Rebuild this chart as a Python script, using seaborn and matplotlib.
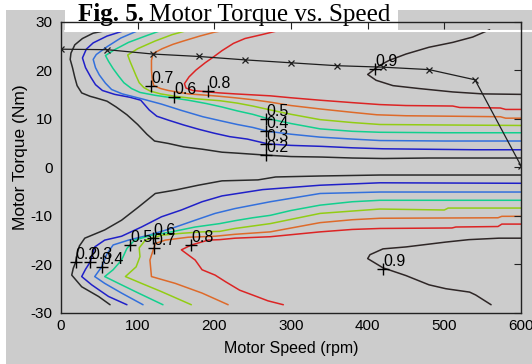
import matplotlib
matplotlib.use("Agg")
import matplotlib.pyplot as plt
from matplotlib import font_manager
from matplotlib.patches import Rectangle
from matplotlib.lines import Line2D
import seaborn as sns
import pandas as pd

# ---------------------------------------------------------------------------
# Efficiency contours of the motor map (speed in rpm, torque in Nm)
# ---------------------------------------------------------------------------
levels = [0.2, 0.3, 0.4, 0.5, 0.6, 0.7, 0.8, 0.9]

# motoring region (positive torque)
mot_02 = [(64, 28.3), (42, 27.6), (28, 26.5), (18, 25.2), (13, 23.5), (12, 22.2), (15, 20.5),
          (18, 18.5), (21, 16.8), (27, 15.3), (38, 14.6), (45, 14.3), (60, 13.6), (72, 12.4),
          (86, 10.8), (100, 8.8), (112, 6.8), (122, 5.4), (140, 4.9), (160, 4.2), (185, 3.7),
          (210, 3.1), (230, 2.9), (267, 2.5), (300, 2.2), (340, 2.1), (380, 1.9), (420, 1.8),
          (480, 1.9), (600, 1.9)]
mot_03 = [(86, 28.3), (60, 27.0), (42, 25.6), (33, 24.3), (28, 22.5), (32, 20.5), (39, 18.5),
          (45, 17.0), (54, 15.8), (70, 15.0), (90, 14.4), (104, 13.8), (115, 11.8), (125, 10.5),
          (140, 9.7), (160, 8.7), (180, 7.8), (200, 7.0), (220, 6.3), (243, 5.8), (270, 4.8),
          (300, 4.5), (340, 4.3), (380, 4.0), (420, 3.8), (480, 3.7), (540, 3.6), (600, 3.6)]
mot_04 = [(103, 28.3), (78, 26.6), (60, 24.8), (46, 23.2), (42, 22.2), (45, 20.5), (50, 19.0),
          (58, 17.3), (66, 16.0), (80, 15.1), (105, 14.1), (131, 13.0), (157, 11.7), (185, 10.4),
          (210, 9.5), (230, 8.8), (250, 8.2), (270, 7.4), (300, 6.8), (338, 6.2), (380, 5.8),
          (416, 5.5), (500, 5.4), (600, 5.4)]
mot_05 = [(133, 28.3), (110, 27.0), (88, 25.7), (70, 24.2), (58, 23.0), (62, 21.8), (68, 20.3),
          (75, 18.8), (82, 17.4), (92, 16.2), (103, 15.4), (123, 14.8), (145, 14.3), (166, 13.8),
          (190, 13.1), (210, 12.4), (230, 11.6), (250, 10.9), (270, 10.0), (300, 9.0), (338, 7.9),
          (380, 7.4), (416, 7.2), (500, 7.1), (600, 7.1)]
mot_06 = [(168, 28.3), (145, 27.3), (123, 26.0), (100, 24.4), (87, 23.1), (90, 21.8), (94, 20.3),
          (98, 18.8), (102, 17.4), (108, 16.4), (116, 15.7), (130, 15.1), (149, 14.6), (175, 14.1),
          (207, 13.7), (230, 13.2), (250, 12.6), (273, 11.8), (300, 10.9), (338, 9.8), (380, 9.2),
          (416, 8.8), (500, 8.7), (600, 8.6)]
mot_07 = [(217, 28.3), (200, 27.8), (181, 27.0), (160, 26.0), (146, 25.3), (132, 24.4), (120, 23.4),
          (118, 22.0), (118, 20.0), (119, 18.0), (121, 16.8), (130, 16.2), (140, 15.8), (166, 15.1),
          (192, 14.8), (207, 14.6), (227, 14.3), (250, 13.9), (273, 13.4), (300, 12.7), (338, 12.0),
          (380, 11.3), (412, 10.8), (450, 10.6), (573, 10.4), (580, 10.1), (600, 10.1)]
mot_08 = [(288, 28.3), (262, 27.3), (240, 26.5), (225, 25.5), (210, 24.0), (198, 22.6), (188, 21.5),
          (176, 20.0), (167, 18.6), (161, 17.2), (163, 16.3), (172, 15.8), (192, 15.5), (207, 15.3),
          (227, 15.1), (250, 14.9), (273, 14.7), (300, 14.3), (338, 13.8), (380, 13.3), (416, 12.9),
          (450, 12.7), (511, 12.6), (520, 12.3), (573, 12.2), (580, 11.9), (600, 11.9)]
mot_09 = [(559, 28.3), (537, 26.8), (511, 25.7), (480, 24.7), (450, 23.3), (428, 22.0), (415, 20.9),
          (400, 19.1), (411, 17.9), (433, 16.8), (467, 16.2), (511, 15.5), (550, 15.1), (600, 15.0)]

# generating region (negative torque)
gen_02 = [(64, -28.3), (49, -26.6), (27, -24.6), (14, -22.2), (16, -20.8), (19, -19.6), (21, -17.8),
          (24, -16.2), (31, -14.6), (57, -12.9), (79, -10.9), (101, -8.2), (123, -5.4), (149, -4.7),
          (179, -3.7), (210, -2.8), (257, -2.6), (280, -2.0), (338, -1.8), (416, -1.6), (600, -1.6)]
gen_03 = [(86, -28.3), (62, -26.6), (40, -24.2), (27, -22.5), (32, -21.0), (38, -19.5), (44, -16.4),
          (57, -15.0), (79, -14.2), (105, -12.3), (131, -10.2), (157, -8.8), (184, -7.1), (210, -5.9),
          (263, -4.6), (338, -3.7), (416, -3.2), (600, -3.3)]
gen_04 = [(107, -28.3), (79, -25.9), (57, -23.9), (44, -22.5), (53, -20.5), (60, -17.8), (68, -16.0),
          (88, -15.0), (114, -14.0), (144, -12.6), (175, -10.9), (201, -9.5), (227, -8.5), (273, -7.1),
          (338, -5.4), (416, -5.1), (600, -5.1)]
gen_05 = [(133, -28.3), (101, -25.9), (75, -23.9), (57, -22.5), (68, -21.1), (79, -19.1), (86, -16.7),
          (96, -15.0), (118, -14.0), (144, -13.3), (175, -12.3), (207, -11.6), (227, -11.0),
          (250, -10.4), (273, -9.9), (300, -8.9), (338, -7.8), (380, -7.1), (416, -6.8), (600, -6.8)]
gen_06 = [(170, -28.3), (131, -25.6), (105, -23.9), (84, -22.5), (98, -20.5), (103, -18.4),
          (102, -16.6), (110, -15.0), (131, -14.0), (157, -13.6), (184, -13.3), (207, -13.2),
          (227, -12.6), (273, -11.6), (338, -9.5), (416, -8.6), (500, -8.8), (505, -8.4), (600, -8.4)]
gen_07 = [(218, -28.3), (184, -25.9), (149, -23.9), (118, -22.5), (116, -19.1), (123, -15.7),
          (136, -15.0), (166, -14.4), (201, -14.2), (227, -13.8), (273, -13.3), (338, -11.4),
          (380, -10.8), (416, -10.5), (570, -10.4), (575, -10.1), (600, -10.1)]
gen_08 = [(290, -28.3), (270, -27.5), (255, -26.6), (233, -25.3), (215, -23.6), (201, -22.2),
          (184, -21.1), (175, -19.1), (157, -17.0), (170, -16.0), (192, -15.0), (207, -14.9),
          (227, -14.6), (273, -14.3), (338, -13.3), (380, -12.8), (416, -12.6), (510, -12.5),
          (515, -12.3), (570, -12.2), (575, -11.7), (600, -11.7)]
gen_09 = [(600, -14.6), (571, -14.6), (532, -14.9), (502, -15.4), (450, -16.4), (420, -16.8),
          (403, -18.0), (400, -18.8), (420, -20.7), (450, -22.3), (480, -24.2), (502, -25.0),
          (533, -25.7), (541, -26.3), (561, -28.3)]

# contour label anchors: (level, speed, torque)
label_points = [
    (0.7, 118, 16.8), (0.6, 148, 14.5), (0.8, 192, 15.6),
    (0.5, 268, 10.0), (0.4, 268, 7.4), (0.3, 268, 4.8), (0.2, 268, 2.5),
    (0.9, 410, 20.2),
    (0.2, 19, -19.6), (0.3, 38, -19.5), (0.4, 53, -20.5),
    (0.5, 90, -16.0), (0.6, 120, -14.5), (0.7, 121, -16.6), (0.8, 170, -16.0),
    (0.9, 420, -20.9),
]

# maximum torque envelope
envelope_speed = [0, 60, 120, 180, 240, 300, 360, 420, 480, 540, 600]
envelope_torque = [24.3, 24.2, 23.3, 22.8, 22.1, 21.5, 20.9, 20.6, 20.1, 18.0, 0.3]

speed_ticks = [0, 100, 200, 300, 400, 500, 600]
torque_ticks = [-30, -20, -10, 0, 10, 20, 30]

# ---------------------------------------------------------------------------
level_colors = {0.2: "#2a2a2a", 0.3: "#2020c8", 0.4: "#3370dc", 0.5: "#12d08e",
                0.6: "#92cc14", 0.7: "#de6a2a", 0.8: "#dc2424", 0.9: "#2e2626"}

branches = {
    "m0.2": mot_02, "m0.3": mot_03, "m0.4": mot_04, "m0.5": mot_05,
    "m0.6": mot_06, "m0.7": mot_07, "m0.8": mot_08, "m0.9": mot_09,
    "g0.2": gen_02, "g0.3": gen_03, "g0.4": gen_04, "g0.5": gen_05,
    "g0.6": gen_06, "g0.7": gen_07, "g0.8": gen_08, "g0.9": gen_09,
}
rows = []
for name, pts in branches.items():
    for i, (s, t) in enumerate(pts):
        rows.append({"branch": name, "order": i, "speed": s, "torque": t})
contours = pd.DataFrame(rows)
palette = {name: level_colors[float(name[1:])] for name in branches}

labels_df = pd.DataFrame(label_points, columns=["level", "speed", "torque"])


def pick_font(names, fallback):
    for n in names:
        try:
            font_manager.findfont(font_manager.FontProperties(family=n),
                                  fallback_to_default=False)
            return n
        except Exception:
            pass
    return fallback


sans = pick_font(["Liberation Sans Narrow", "Arial Narrow", "Liberation Sans"], "DejaVu Sans")
serif = pick_font(["Liberation Serif", "DejaVu Serif"], "DejaVu Serif")

sns.set_theme(style="white")
plt.rcParams["font.family"] = [sans, "DejaVu Sans"]

W, H = 532, 364
GRAY = "#cccccc"
fig = plt.figure(figsize=(W / 100, H / 100), dpi=100, facecolor="white")
fig.patches.append(Rectangle((6 / W, 0), 1 - 6 / W, (H - 10) / H, transform=fig.transFigure,
                             facecolor=GRAY, edgecolor="none", zorder=-10))

ax = fig.add_axes([61 / W, 1 - 313 / H, 460 / W, 291.5 / H])
ax.set_facecolor(GRAY)

sns.lineplot(data=contours, x="speed", y="torque", hue="branch", palette=palette, sort=False,
             estimator=None, legend=False, linewidth=1.1, ax=ax)

sns.lineplot(x=envelope_speed, y=envelope_torque, color="#1e1e1e", linewidth=0.9, marker="x",
             markersize=5, markeredgecolor="#1e1e1e", markeredgewidth=0.9, sort=False,
             estimator=None, ax=ax)

sns.scatterplot(data=labels_df, x="speed", y="torque", marker="+", color="black", s=70,
                linewidth=1.0, legend=False, ax=ax, zorder=4)
for _, r in labels_df.iterrows():
    ax.text(r["speed"], r["torque"], f"{r['level']:.1f}", ha="left", va="bottom",
            fontsize=11.5, color="black", zorder=4)

ax.set_xlim(0, 600)
ax.set_ylim(-30, 30)
ax.set_xticks(speed_ticks)
ax.set_yticks(torque_ticks)
ax.set_xticklabels([str(v) for v in speed_ticks])
ax.set_yticklabels([str(v) for v in torque_ticks])
ax.tick_params(direction="in", length=5, width=0.8, color="#222222", top=True, right=True,
               labelsize=11, labelcolor="black")
ax.tick_params(axis="y", pad=6)
ax.tick_params(axis="x", pad=4)
ax.set_xlabel("Motor Speed (rpm)", fontsize=11.5, color="black")
ax.xaxis.set_label_coords(0.5, -0.095)
ax.set_ylabel("Motor Torque (Nm)", fontsize=12.5, color="black")
ax.yaxis.set_label_coords(-0.072, 0.535)
for sp in ax.spines.values():
    sp.set_color("#222222")
    sp.set_linewidth(1.0)
    sp.set_zorder(8)
ax.xaxis.set_zorder(8)
ax.yaxis.set_zorder(8)

# title plate across the top of the frame
ax.add_patch(Rectangle((65 / W, 1 - 31 / H), (398 - 65) / W, 22 / H, transform=fig.transFigure,
                       facecolor="white", edgecolor="none", clip_on=False, zorder=5))
ax.add_line(Line2D([65 / W, 1], [1 - 31 / H, 1 - 31 / H], transform=fig.transFigure,
                   color="white", linewidth=1.5, clip_on=False, zorder=5))
t1 = ax.text(78 / W, 1 - 21.5 / H, "Fig. 5.", transform=fig.transFigure, family=serif,
             fontweight="bold", fontsize=18, va="baseline", ha="left", color="black",
             clip_on=False, zorder=6)
renderer = fig.canvas.get_renderer()
bb = t1.get_window_extent(renderer)
ax.text((bb.x1 + 5) / W, 1 - 21.5 / H, "Motor Torque vs. Speed", transform=fig.transFigure,
        family=serif, fontsize=18, va="baseline", ha="left", color="black", clip_on=False,
        zorder=6)

fig.savefig("out.png", dpi=100, facecolor=fig.get_facecolor())
